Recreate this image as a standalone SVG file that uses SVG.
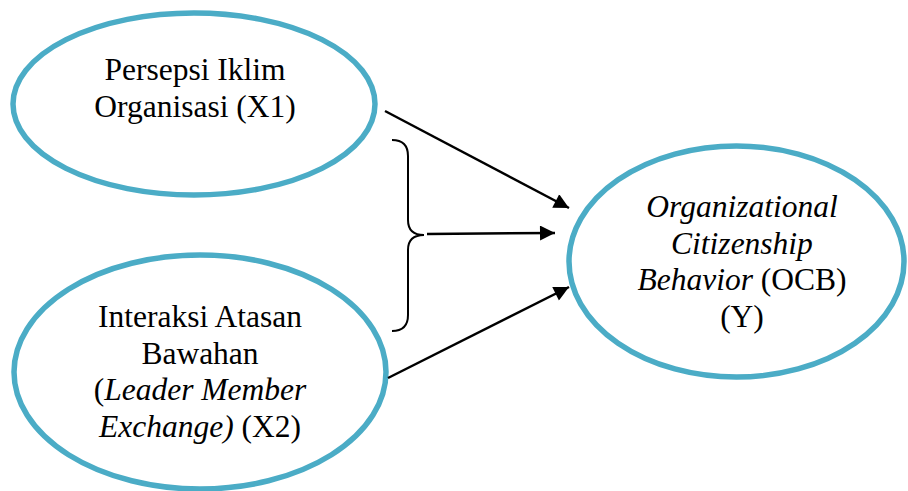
<svg xmlns="http://www.w3.org/2000/svg" width="908" height="491" viewBox="0 0 908 491">
<style>
.node ellipse{fill:#fff;stroke:#4BACC6;stroke-width:5.5}
text{font-family:'Liberation Serif','Times New Roman',serif;font-size:31.5px;fill:#000;text-anchor:middle}
.it{font-style:italic}
.conn line{stroke:#000;stroke-width:2.5;marker-end:url(#ah)}
.brace{fill:none;stroke:#000;stroke-width:2}
</style>
<defs>
<marker id="ah" viewBox="0 0 10 10" refX="10" refY="5" markerWidth="6.5" markerHeight="6" markerUnits="strokeWidth" orient="auto">
<path d="M0,0 L10,5 L0,10 z" fill="#000"/>
</marker>
</defs>
<rect width="908" height="491" fill="#fff"/>
<g id="x1" class="node">
<ellipse cx="194" cy="104" rx="181" ry="91"/>
<text x="195" y="80">Persepsi Iklim</text>
<text x="195" y="117">Organisasi (X1)</text>
</g>
<g id="x2" class="node">
<ellipse cx="200" cy="372" rx="186" ry="117"/>
<text x="200" y="327">Interaksi Atasan</text>
<text x="200" y="364">Bawahan</text>
<text x="200" y="400">(<tspan class="it">Leader Member</tspan></text>
<text x="200" y="437"><tspan class="it">Exchange)</tspan> (X2)</text>
</g>
<g id="y" class="node">
<ellipse cx="736.5" cy="261.5" rx="167.5" ry="115.5"/>
<text x="742" y="217" class="it">Organizational</text>
<text x="742" y="254" class="it">Citizenship</text>
<text x="742" y="290"><tspan class="it">Behavior</tspan> (OCB)</text>
<text x="742" y="327">(Y)</text>
</g>
<g id="connectors" class="conn">
<line x1="385" y1="111" x2="569" y2="208"/>
<line x1="427" y1="234" x2="555" y2="233"/>
<line x1="388" y1="378" x2="569" y2="287"/>
<path class="brace" d="M392,140 Q408,140 408,156 L408,220 Q408,235 424,235 Q408,235 408,250 L408,315 Q408,331 392,331"/>
</g>
</svg>
